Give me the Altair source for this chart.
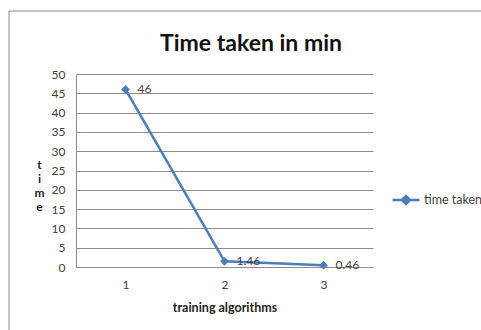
import altair as alt
import pandas as pd

# Chart values
algorithms = ["1", "2", "3"]
time_taken = [46, 1.46, 0.46]
series_name = "time taken"
chart_title = "Time taken in min"

df = pd.DataFrame({
    "algorithm": algorithms,
    "time": time_taken,
    "series": [series_name] * len(algorithms),
    "label": [f"{v:g}" for v in time_taken],
})

BLUE = "#4A7EBB"
FONT = "Lato"
TEXT = "#404040"

x = alt.X(
    "algorithm:N",
    sort=algorithms,
    scale=alt.Scale(type="point", padding=0.5),
    axis=alt.Axis(
        title="training algorithms",
        labelAngle=0,
        labelFontSize=12,
        labelColor=TEXT,
        labelPadding=12,
        ticks=False,
        domainColor="#8c8c8c",
        titleFontSize=12.5,
        titleFontWeight="bold",
        titleColor="#222222",
        titlePadding=11,
    ),
)
y = alt.Y(
    "time:Q",
    scale=alt.Scale(domain=[0, 50], nice=False),
    axis=alt.Axis(
        values=list(range(0, 51, 5)),
        title=["t", "i", "m", "e"],
        titleAngle=0,
        titleAlign="center",
        titleBaseline="top",
        titleX=-37,
        titleY=85,
        titleLineHeight=14,
        titleFontSize=12,
        titleFontWeight="bold",
        titleColor="#222222",
        labelFontSize=12,
        labelColor=TEXT,
        labelPadding=11,
        ticks=False,
        domainColor="#8c8c8c",
        grid=True,
        gridColor="#8c8c8c",
    ),
)

base = alt.Chart(df)
first_row = alt.datum.algorithm == algorithms[0]

# outer chart frame
frame = base.mark_rect(fill=None, stroke="#8c8c8c", strokeWidth=1).encode(
    x=alt.value(-67), x2=alt.value(420), y=alt.value(-63), y2=alt.value(270)
).transform_filter(first_row)

# chart heading, centred over the whole chart area
heading = base.mark_text(
    align="center", baseline="alphabetic", fontSize=23, font=FONT,
    fontWeight="bold", color="#111111",
).encode(
    x=alt.value(175), y=alt.value(-23), text=alt.value(chart_title)
).transform_filter(first_row)

line = base.mark_line(color=BLUE, strokeWidth=2.5).encode(x=x, y=y)

points = base.mark_point(filled=True, shape="diamond", size=75, opacity=1).encode(
    x=x,
    y=y,
    color=alt.Color(
        "series:N",
        scale=alt.Scale(range=[BLUE]),
        legend=alt.Legend(
            title=None,
            orient="none",
            legendX=315,
            legendY=111,
            symbolType="M-1,0L1,0M-0.3,0L0,-0.3L0.3,0L0,0.3Z",
            symbolSize=729,
            symbolStrokeWidth=2.5,
            symbolStrokeColor=BLUE,
            symbolFillColor=BLUE,
            labelFontSize=12.5,
            labelColor=TEXT,
            labelFont=FONT,
            labelOffset=3,
        ),
    ),
)

labels = base.mark_text(align="left", baseline="middle", dx=12, fontSize=12, color=TEXT, font=FONT).encode(
    x=x, y=y, text="label:N"
)

chart = alt.layer(frame, heading, line, points, labels).properties(
    width=297,
    height=193,
    padding={"left": 76, "top": 74, "right": 108, "bottom": 63},
    autosize=alt.AutoSizeParams(type="none"),
).configure_view(stroke=None).configure_axis(labelFont=FONT, titleFont=FONT)

chart.save("out.html", embed_options={"renderer": "svg", "actions": False})
